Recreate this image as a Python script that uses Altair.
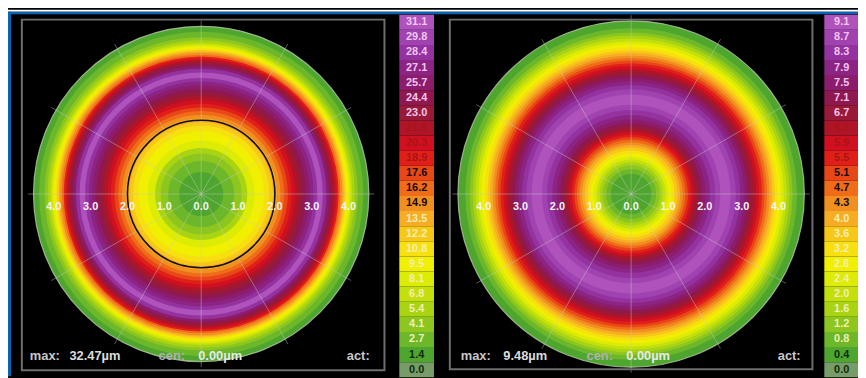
import altair as alt
import pandas as pd

# ---------------- data ----------------
left_levels = [0.0, 1.4, 2.7, 4.1, 5.4, 6.8, 8.1, 9.5, 10.8, 12.2, 13.5, 14.9,
               16.2, 17.6, 18.9, 20.3, 21.6, 23.0, 24.4, 25.7, 27.1, 28.4, 29.8, 31.1]
right_levels = [0.0, 0.4, 0.8, 1.2, 1.6, 2.0, 2.4, 2.8, 3.2, 3.6, 4.0, 4.3,
                4.7, 5.1, 5.5, 5.9, 6.3, 6.7, 7.1, 7.5, 7.9, 8.3, 8.7, 9.1]
palette = ["#789c68", "#4ea62e", "#6cb82a", "#8cc61e", "#a8d414", "#c4e00c",
           "#dcec04", "#f0f000", "#f8e010", "#f8c818", "#f8ac24", "#f09020",
           "#f06c18", "#e84818", "#e02018", "#d01020", "#b01428", "#981a38",
           "#901850", "#8c1c6c", "#8c2484", "#9432a0", "#a042b0", "#b052bc"]
label_colors = (["#0c2a0c"] * 2 + ["#f4eeb0"] * 9 + ["#180800"] * 3 +
                ["#a81414"] * 3 + ["#f2c6ee"] * 7)

# radial profiles (outer radius of each ring in mm, height in µm), centre outward
left_r = [0.6, 0.9, 1.1, 1.25, 1.45, 1.7, 1.85, 1.95, 2.05, 2.15, 2.25, 2.35, 2.45,
          2.55, 2.65, 2.75, 2.85, 2.95, 3.05, 3.15, 3.3, 3.4, 3.47, 3.53, 3.58, 3.63,
          3.68, 3.73, 3.78, 3.83, 3.87, 3.91, 3.95, 4.0, 4.05, 4.1, 4.17, 4.25, 4.4,
          4.55]
left_v = [2.0, 3.5, 5.0, 6.5, 8.5, 10.0, 11.5, 13.0, 14.0, 15.5, 17.0, 18.5, 20.0,
          21.0, 22.5, 24.0, 25.0, 26.5, 28.0, 29.5, 32.0, 29.5, 27.0, 25.0, 23.5, 22.0,
          20.5, 19.0, 17.5, 15.5, 14.0, 12.5, 11.0, 9.8, 8.5, 7.0, 5.5, 4.2, 3.0, 2.0]
right_r = [0.55, 0.68, 0.78, 0.86, 0.94, 1.02, 1.1, 1.18, 1.26, 1.33, 1.4, 1.47,
           1.54, 1.61, 1.68, 1.75, 1.83, 1.92, 2.02, 2.14, 2.28, 2.42, 2.7, 2.84,
           2.96, 3.06, 3.15, 3.23, 3.31, 3.39, 3.47, 3.55, 3.62, 3.69, 3.76, 3.83,
           3.9, 3.98, 4.06, 4.14, 4.22, 4.3, 4.38, 4.5, 4.7]
right_v = [0.6, 0.9, 1.3, 1.7, 2.1, 2.5, 2.9, 3.3, 3.7, 4.1, 4.4, 4.8, 5.2, 5.6,
           6.0, 6.4, 6.8, 7.2, 7.6, 8.0, 8.4, 8.8, 9.3, 8.8, 8.4, 8.0, 7.6, 7.2,
           6.8, 6.4, 6.0, 5.6, 5.2, 4.8, 4.4, 4.1, 3.7, 3.3, 2.9, 2.5, 2.1, 1.7,
           1.3, 0.9, 0.6]

axis_pos = [-4, -3, -2, -1, 0, 1, 2, 3, 4]
axis_lab = ["4.0", "3.0", "2.0", "1.0", "0.0", "1.0", "2.0", "3.0", "4.0"]
spoke_angles = [0, 30, 60, 90, 120, 150, 180, 210, 240, 270, 300, 330]
info_words = ["max:", "32.47µm", "cen:", "0.00µm", "act:",
              "max:", "9.48µm", "cen:", "0.00µm", "act:"]
info_x = [22, 62, 152, 192, 342, 457, 500, 584, 624, 777]
info_col = ["#c8c8c8", "#dcdcdc", "#b0b0b0", "#e8e8e8", "#c8c8c8",
            "#c8c8c8", "#dcdcdc", "#b0b0b0", "#e8e8e8", "#c8c8c8"]

# ---------------- geometry ----------------
W, H = 858, 370
PX = 37.2
LCX, LCY, RCX = 195, 186, 629
XMIN = -LCX / PX
XMAX = XMIN + W / PX
YMAX = LCY / PX
YMIN = YMAX - H / PX
L_CX, R_CX = 0.0, (RCX - LCX) / PX

xs = alt.Scale(domain=[XMIN, XMAX], range=[0, W], nice=False, zero=False)
ys = alt.Scale(domain=[YMIN, YMAX], range=[H, 0], nice=False, zero=False)
rs = alt.Scale(type="linear", domain=[0, 5], range=[0, 5 * PX], nice=False, zero=True)
pxs = alt.Scale(domain=[0, W], range=[0, W], nice=False, zero=False)
pys = alt.Scale(domain=[0, H], range=[0, H], nice=False, zero=False)
FONT = "Liberation Sans"


def rings(rr, vv, cx):
    df = pd.DataFrame({"r": rr, "v": vv})
    df["cx"] = cx
    df["cy"] = 0.0
    return df.sort_values("r", ascending=False).reset_index(drop=True)


def ring_layer(df, levels):
    return alt.Chart(df).mark_arc(theta=0, theta2=6.2832, stroke=None).encode(
        x=alt.X("cx:Q", scale=xs, axis=None),
        y=alt.Y("cy:Q", scale=ys, axis=None),
        radius=alt.Radius("r:Q", scale=rs, stack=None),
        color=alt.Color("v:Q", scale=alt.Scale(type="threshold", domain=levels[1:],
                                                range=palette), legend=None),
    )


left_rings = ring_layer(rings(left_r, left_v, L_CX), left_levels)
right_rings = ring_layer(rings(right_r, right_v, R_CX), right_levels)

# spokes
sp = pd.DataFrame([{"cx": c, "cy": 0.0, "ang": a, "len": ln}
                   for c, ln in [(L_CX, left_r[-1] + 0.15), (R_CX, right_r[-1] + 0.15)]
                   for a in spoke_angles])
spokes = alt.Chart(sp).transform_calculate(
    x2="datum.cx + datum.len * cos(datum.ang * PI / 180)",
    y2="datum.cy + datum.len * sin(datum.ang * PI / 180)",
).mark_rule(color="#c8c8c8", strokeWidth=1, opacity=0.45).encode(
    x=alt.X("cx:Q", scale=xs, axis=None), y=alt.Y("cy:Q", scale=ys, axis=None),
    x2="x2:Q", y2="y2:Q")

# outline circles
outl = pd.DataFrame({"cx": [L_CX, R_CX], "cy": [0.0, 0.0], "r": [left_r[-1], right_r[-1]]})
outline = alt.Chart(outl).mark_arc(theta=0, theta2=6.2832, fillOpacity=0,
                                   stroke="#b8c8a8", strokeWidth=1.2, strokeOpacity=0.8).encode(
    x=alt.X("cx:Q", scale=xs, axis=None), y=alt.Y("cy:Q", scale=ys, axis=None),
    radius=alt.Radius("r:Q", scale=rs, stack=None))
zone = pd.DataFrame({"cx": [L_CX], "cy": [0.0], "r": [2.0]})
zone_circle = alt.Chart(zone).mark_arc(theta=0, theta2=6.2832, fillOpacity=0,
                                       stroke="#101010", strokeWidth=1.6).encode(
    x=alt.X("cx:Q", scale=xs, axis=None), y=alt.Y("cy:Q", scale=ys, axis=None),
    radius=alt.Radius("r:Q", scale=rs, stack=None))

# axis labels on maps
ax = pd.DataFrame([{"x": c + p, "y": 0.0, "t": t}
                   for c in (L_CX, R_CX) for p, t in zip(axis_pos, axis_lab)])
axis_text = alt.Chart(ax).mark_text(font=FONT, fontSize=11, fontWeight="bold",
                                    color="#f4f4f4", dy=13).encode(
    x=alt.X("x:Q", scale=xs, axis=None), y=alt.Y("y:Q", scale=ys, axis=None), text="t:N")

# legends
leg_rows = []
for side, levels, x0 in [("L", left_levels, 395), ("R", right_levels, 824)]:
    for i, lv in enumerate(levels):
        leg_rows.append({"side": side, "lo": i, "hi": i + 1, "mid": i + 0.5,
                         "lab": f"{lv:.1f}", "col": palette[i], "tcol": label_colors[i],
                         "x0": x0})
leg = pd.DataFrame(leg_rows)
lys = alt.Scale(domain=[0, 24], range=[5 + 24 * 15.25, 5], nice=False, zero=False)
leg_rect = alt.Chart(leg).transform_calculate(x1="datum.x0 + 35").mark_rect().encode(
    x=alt.X("x0:Q", scale=pxs, axis=None), x2="x1:Q",
    y=alt.Y("lo:Q", scale=lys, axis=None), y2="hi:Q",
    color=alt.Color("col:N", scale=None))
leg_text = alt.Chart(leg).transform_calculate(xm="datum.x0 + 17.5").mark_text(
    font=FONT, fontSize=11, fontWeight="bold", baseline="middle").encode(
    x=alt.X("xm:Q", scale=pxs, axis=None),
    y=alt.Y("mid:Q", scale=lys, axis=None),
    text="lab:N", color=alt.Color("tcol:N", scale=None))

# frame, border
frames = alt.Chart(pd.DataFrame({"x": [14, 446], "x2": [380, 812], "y": [10, 10],
                                 "y2": [364, 363]})).mark_rect(
    fillOpacity=0, stroke="#6e6e6e", strokeWidth=2).encode(
    x=alt.X("x:Q", scale=pxs, axis=None), x2="x2:Q",
    y=alt.Y("y:Q", scale=pys, axis=None), y2="y2:Q")
border = alt.Chart(pd.DataFrame({"x": [0, 0, 0], "x2": [W, W, 3], "y": [0, 2, 2],
                                 "y2": [2, 4.5, H], "c": ["#ffffff", "#0a64b4", "#0a64b4"]})).mark_rect().encode(
    x=alt.X("x:Q", scale=pxs, axis=None), x2="x2:Q",
    y=alt.Y("y:Q", scale=pys, axis=None), y2="y2:Q",
    color=alt.Color("c:N", scale=None))

# info texts
info = pd.DataFrame({"t": info_words, "x": info_x, "y": [350] * len(info_words),
                     "c": info_col})
info_text = alt.Chart(info).mark_text(font=FONT, fontSize=13, fontWeight="bold",
                                      align="left", baseline="middle").encode(
    x=alt.X("x:Q", scale=pxs, axis=None),
    y=alt.Y("y:Q", scale=pys, axis=None),
    text="t:N", color=alt.Color("c:N", scale=None))

chart = alt.layer(
    left_rings, right_rings, spokes, outline, zone_circle, frames, border,
    axis_text, leg_rect, leg_text, info_text
).resolve_scale(
    x="independent", y="independent", color="independent", radius="independent"
).properties(
    width=W, height=H, background="#000000", padding=0,
    autosize=alt.AutoSizeParams(type="none")
).configure_view(stroke=None)

chart.save("out.html", embed_options={"renderer": "svg", "actions": False})
